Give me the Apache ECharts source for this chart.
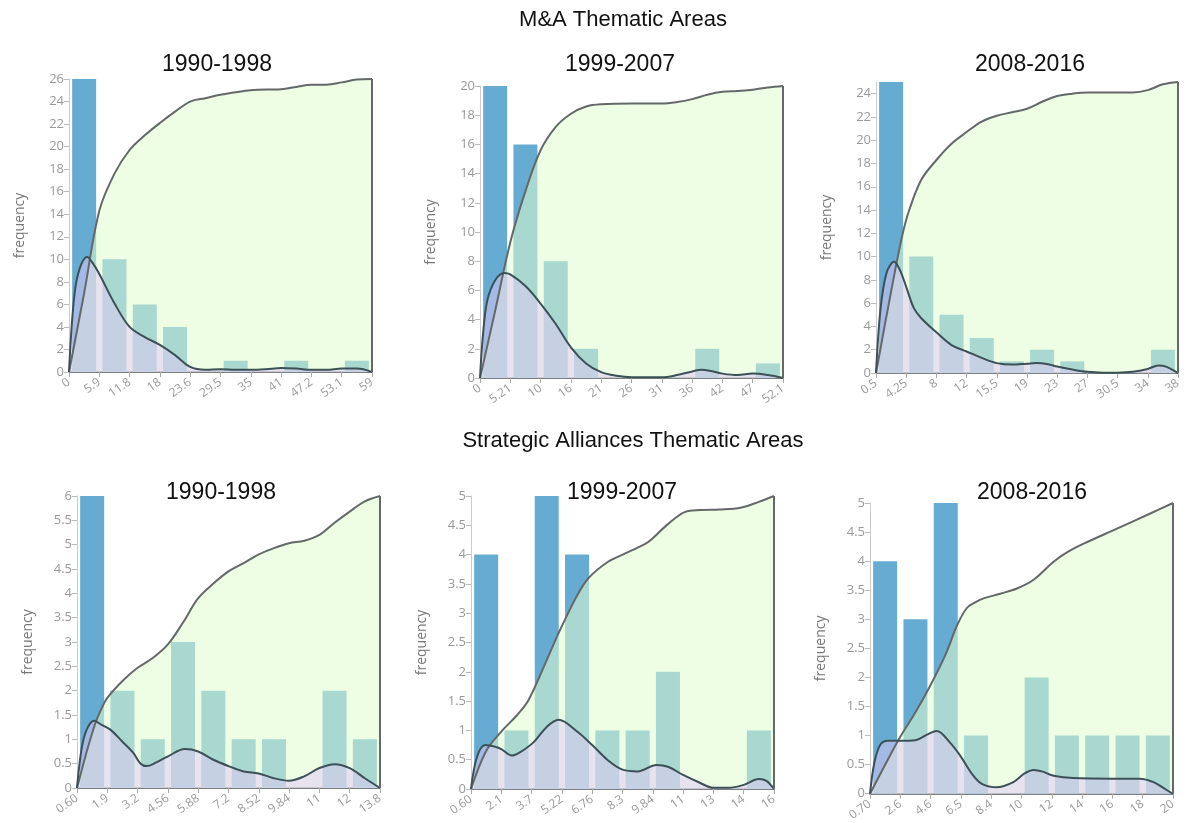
<!DOCTYPE html>
<html>
<head>
<meta charset="utf-8">
<script src="https://cdn.jsdelivr.net/npm/echarts@6/dist/echarts.min.js"></script>
<style>
html,body{margin:0;padding:0;background:#fff;}
#chart{width:1192px;height:823px;}
</style>
</head>
<body>
<div id="chart"></div>
<script>
// ---------- DATA ----------
const sectionTitles = ['M&A Thematic Areas', 'Strategic Alliances Thematic Areas'];
const panelTitles = ['1990-1998', '1999-2007', '2008-2016', '1990-1998', '1999-2007', '2008-2016'];

// bin-edge tick labels
const maLabels90 = ['0','5.9','11.8','18','23.6','29.5','35','41','47.2','53.1','59'];
const maLabels99 = ['0','5.21','10','16','21','26','31','36','42','47','52.1'];
const maLabels08 = ['0.5','4.25','8','12','15.5','19','23','27','30.5','34','38'];
const saLabels90 = ['0.60','1.9','3.2','4.56','5.88','7.2','8.52','9.84','11','12','13.8'];
const saLabels99 = ['0.60','2.1','3.7','5.22','6.76','8.3','9.84','11','13','14','16'];
const saLabels08 = ['0.70','2.6','4.6','6.5','8.4','10','12','14','16','18','20'];

// histogram frequencies (10 bins)
const maBars90 = [26,10,6,4,0,1,0,1,0,1];
const maBars99 = [20,16,8,2,0,0,0,2,0,1];
const maBars08 = [25,10,5,3,1,2,1,0,0,2];
const saBars90 = [6,2,1,3,2,1,1,0,2,1];
const saBars99 = [4,1,5,4,1,1,2,0,0,1];
const saBars08 = [4,3,5,1,0,2,1,1,1,1];

// y-axis maxima and tick steps
const yMax = [26, 20, 25, 6, 5, 5];
const yStep = [2, 2, 2, 0.5, 0.5, 0.5];

// cumulative curves  [bin position, value]
const maCum90 = [[0,0],[0.5,7],[1,14.3],[1.5,17.6],[2,19.7],[2.5,21.0],[3,22.1],[3.5,23.1],[4,24.0],[4.5,24.3],[5,24.6],[6,25.0],[7,25.1],[7.5,25.3],[8,25.5],[8.5,25.5],[9,25.7],[9.5,25.95],[10,26]];
const maCum99 = [[0,0],[0.5,4.6],[1,9.3],[1.5,12.8],[2,15.6],[2.5,17.2],[3,18.1],[3.5,18.6],[4,18.75],[5,18.8],[6,18.8],[6.5,18.9],[7,19.1],[7.5,19.4],[8,19.6],[8.5,19.65],[9,19.75],[9.5,19.9],[10,20]];
const maCum08 = [[0,0],[0.5,7],[0.86,11.7],[1.1,14],[1.5,16.6],[2,18.3],[2.5,19.7],[3,20.7],[3.5,21.6],[4,22.1],[4.5,22.4],[5,22.7],[5.5,23.3],[6,23.8],[6.5,24],[7,24.1],[8,24.1],[8.5,24.1],[9,24.3],[9.5,24.8],[10,25]];
const saCum90 = [[0,0],[0.3,0.7],[0.6,1.32],[0.8,1.62],[1,1.85],[1.5,2.2],[2,2.47],[2.5,2.67],[3,2.95],[3.5,3.4],[4,3.9],[4.5,4.2],[5,4.45],[5.5,4.62],[6,4.8],[6.5,4.93],[7,5.03],[7.5,5.08],[8,5.2],[8.5,5.45],[9,5.68],[9.5,5.89],[10,6]];
const saCum99 = [[0,0],[0.5,0.65],[1,0.98],[1.5,1.25],[1.9,1.52],[2.5,2.2],[2.89,2.66],[3.5,3.3],[3.88,3.6],[4.5,3.87],[5.09,4.02],[5.5,4.12],[5.86,4.22],[6.5,4.52],[7.07,4.73],[7.56,4.76],[8.2,4.77],[8.9,4.8],[9.5,4.9],[10,5]];
const saCum08 = [[0,0],[0.5,0.5],[1,0.98],[1.5,1.4],[2,1.87],[2.5,2.4],[2.86,2.88],[3.19,3.19],[3.5,3.3],[3.75,3.36],[4.3,3.44],[4.85,3.53],[5.4,3.68],[6.06,3.99],[6.5,4.15],[7.05,4.3],[8.15,4.56],[9.25,4.82],[10,5]];

// density curves  [bin position, value]
const maDens90 = [[0,0],[0.14,5.8],[0.3,8.7],[0.6,10.2],[0.8,9.6],[1,8.7],[1.5,6.1],[2,4.0],[2.5,3.1],[3,2.4],[3.5,1.5],[4,0.45],[4.5,0.2],[5,0.25],[5.5,0.2],[6,0.2],[6.5,0.25],[7,0.35],[7.5,0.3],[8,0.2],[8.5,0.2],[9,0.3],[9.5,0.3],[10,0]];
const maDens99 = [[0,0],[0.1,3],[0.24,5.3],[0.5,6.7],[0.8,7.2],[1,7.1],[1.5,6.3],[2,5.1],[2.5,3.7],[3,2.1],[3.5,1.0],[4,0.4],[4.5,0.15],[5,0.05],[6,0.05],[6.5,0.2],[7,0.45],[7.3,0.57],[7.7,0.45],[8,0.3],[8.5,0.2],[9,0.3],[9.5,0.2],[10,0]];
const maDens08 = [[0,0],[0.15,5.5],[0.35,8.6],[0.6,9.55],[0.8,8.8],[1,7.4],[1.25,5.6],[1.5,4.7],[2,3.5],[2.5,2.4],[3,1.85],[3.5,1.3],[4,0.85],[4.5,0.72],[5,0.8],[5.3,0.85],[5.7,0.75],[6,0.55],[6.5,0.3],[7,0.1],[7.5,0.03],[8,0.03],[8.5,0.1],[9,0.35],[9.35,0.65],[9.6,0.55],[10,0]];
const saDens90 = [[0,0],[0.15,0.8],[0.32,1.2],[0.57,1.38],[0.8,1.3],[1.1,1.2],[1.5,0.95],[1.86,0.72],[2.1,0.5],[2.3,0.45],[2.6,0.52],[3,0.65],[3.56,0.8],[4,0.75],[4.5,0.58],[5,0.45],[5.5,0.34],[6,0.3],[6.5,0.2],[7,0.15],[7.5,0.24],[8,0.41],[8.5,0.49],[9,0.41],[9.5,0.2],[10,0]];
const saDens99 = [[0,0],[0.2,0.55],[0.47,0.75],[0.8,0.72],[1,0.68],[1.35,0.57],[1.6,0.62],[2.07,0.8],[2.5,1.06],[2.89,1.18],[3.5,0.98],[4,0.75],[4.5,0.5],[5,0.33],[5.5,0.3],[6.13,0.41],[6.5,0.38],[7,0.24],[7.5,0.12],[8,0.02],[8.5,0.02],[9,0.07],[9.5,0.17],[9.75,0.14],[10,0]];
const saDens08 = [[0,0],[0.15,0.55],[0.35,0.85],[0.6,0.91],[1.0,0.91],[1.5,0.92],[1.9,1.02],[2.2,1.08],[2.64,0.88],[2.97,0.66],[3.41,0.31],[3.69,0.17],[4.18,0.11],[4.73,0.2],[5.1,0.35],[5.4,0.41],[5.7,0.38],[6.06,0.31],[6.7,0.27],[8,0.26],[8.9,0.26],[9.36,0.2],[9.8,0.06],[10,0]];

const allLabels = [maLabels90, maLabels99, maLabels08, saLabels90, saLabels99, saLabels08];
const allBars = [maBars90, maBars99, maBars08, saBars90, saBars99, saBars08];
const allCum = [maCum90, maCum99, maCum08, saCum90, saCum99, saCum08];
const allDens = [maDens90, maDens99, maDens08, saDens90, saDens99, saDens08];

// ---------- LAYOUT / STYLE ----------
const grids = [
  {left:69,  top:79,  width:303, height:293},
  {left:480, top:86,  width:303, height:292},
  {left:876, top:82,  width:302, height:291},
  {left:77,  top:496, width:303, height:292},
  {left:471, top:496, width:303, height:293},
  {left:870, top:503, width:303, height:292}
];
const titlePos = [[217,65],[620,65],[1030,65],[221,493],[622,493],[1032,493]];
const sectionPos = [[623,20],[633,441]];

const TFONT = "'Liberation Sans', Arial, Helvetica, sans-serif";
const AFONT = "'Open Sans', 'Noto Sans', sans-serif";
const BAR_COLOR = '#66abd1';
const CUM_FILL = 'rgba(222,253,206,0.55)';
const DENS_FILL = 'rgba(226,199,248,0.5)';
const CUM_LINE = '#646869';
const DENS_LINE = '#3c5057';

const chart = echarts.init(document.getElementById('chart'), null, {renderer:'canvas'});

const xAxes = [], yAxes = [], series = [], graphics = [];
for (let p = 0; p < 6; p++) {
  const labels = allLabels[p];
  xAxes.push({
    gridIndex: p, type: 'value', min: 0, max: 10, interval: 1,
    axisLine: {show: true, lineStyle: {color: '#50585c', width: 1.5}},
    axisTick: {show: true, length: 5, lineStyle: {color: '#aaa'}},
    splitLine: {show: false},
    axisLabel: {
      rotate: 35, color: '#999', fontSize: 12, fontFamily: AFONT, margin: 9,
      formatter: v => labels[Math.round(v)]
    }
  });
  yAxes.push({
    gridIndex: p, type: 'value', min: 0, max: yMax[p], interval: yStep[p],
    name: 'frequency', nameLocation: 'middle', nameGap: 42,
    nameTextStyle: {color: '#777', fontSize: 14, fontFamily: AFONT},
    axisLine: {show: true, lineStyle: {color: '#ccc'}},
    axisTick: {show: true, length: 5, lineStyle: {color: '#bbb'}},
    splitLine: {show: false},
    axisLabel: {color: '#999', fontSize: 13, fontFamily: AFONT, margin: 5, showMaxLabel: (yMax[p] % yStep[p] === 0)}
  });
  series.push({
    type: 'bar', xAxisIndex: p, yAxisIndex: p, barWidth: 24,
    itemStyle: {color: BAR_COLOR},
    data: allBars[p].map((v, i) => [i + 0.5, v]),
    silent: true
  });
  series.push({
    type: 'line', xAxisIndex: p, yAxisIndex: p, smooth: 0.35,
    showSymbol: false, symbol: 'none',
    lineStyle: {color: CUM_LINE, width: 2},
    areaStyle: {color: CUM_FILL, opacity: 1},
    data: allCum[p], silent: true
  });
  series.push({
    type: 'line', xAxisIndex: p, yAxisIndex: p, smooth: 0.35,
    showSymbol: false, symbol: 'none',
    lineStyle: {color: DENS_LINE, width: 2},
    areaStyle: {color: DENS_FILL, opacity: 1},
    data: allDens[p], silent: true
  });
  series.push({
    type: 'line', xAxisIndex: p, yAxisIndex: p, showSymbol: false, symbol: 'none',
    lineStyle: {color: CUM_LINE, width: 2},
    data: [[10, 0], [10, yMax[p]]], silent: true
  });
  graphics.push({
    type: 'text', x: titlePos[p][0], y: titlePos[p][1], z: 100,
    style: {text: panelTitles[p], font: '23px ' + TFONT, fill: '#111', textAlign: 'center', textVerticalAlign: 'middle'}
  });
}
for (let s = 0; s < 2; s++) {
  graphics.push({
    type: 'text', x: sectionPos[s][0], y: sectionPos[s][1], z: 100,
    style: {text: sectionTitles[s], font: '22px ' + TFONT, fill: '#111', textAlign: 'center', textVerticalAlign: 'middle'}
  });
}

chart.setOption({
  animation: false,
  backgroundColor: '#fff',
  grid: grids.map(g => Object.assign({containLabel: false}, g)),
  xAxis: xAxes,
  yAxis: yAxes,
  series: series,
  graphic: graphics
});
</script>
</body>
</html>
